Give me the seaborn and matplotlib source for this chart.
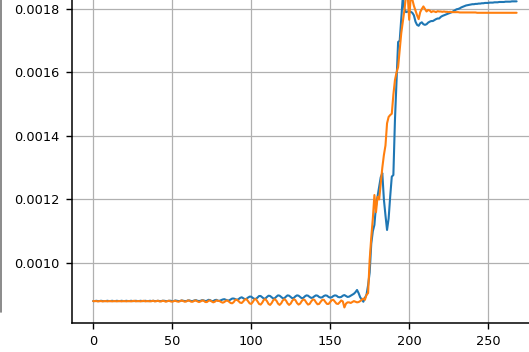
import numpy as np
import pandas as pd
import matplotlib
matplotlib.use("Agg")
import matplotlib.pyplot as plt
from matplotlib.lines import Line2D
from matplotlib.ticker import FormatStrFormatter
import seaborn as sns

# values, in units of 1e-6
blue_vals = [
    880, 880, 881, 880, 880, 881, 880, 880, 880, 881,
    880, 880, 881, 880, 880, 881, 880, 880, 881, 880,
    880, 881, 880, 880, 881, 880, 880, 881, 880, 880,
    881, 880, 880, 881, 880, 880, 881, 880, 881, 880,
    880, 881, 880, 880, 881, 881, 880, 880, 881, 881,
    880, 880, 882, 881, 880, 880, 882, 881, 880, 880,
    882, 882, 880, 880, 882, 883, 881, 880, 881, 883,
    882, 880, 881, 884, 883, 880, 880, 883, 884, 881,
    881, 883, 885, 886, 884, 882, 882, 885, 888, 888,
    886, 884, 886, 890, 892, 889, 886, 887, 891, 894,
    894, 890, 887, 887, 891, 896, 896, 892, 888, 888,
    893, 897, 896, 892, 888, 889, 894, 898, 897, 893,
    889, 889, 894, 898, 897, 893, 889, 890, 895, 898,
    897, 893, 889, 890, 895, 898, 897, 893, 890, 891,
    895, 898, 897, 893, 891, 892, 896, 898, 897, 893,
    891, 892, 896, 898, 897, 893, 892, 893, 897, 899,
    896, 893, 894, 897, 900, 903, 908, 915, 905, 892,
    885, 878, 890, 900, 930, 970, 1060, 1100, 1120, 1180,
    1210, 1240, 1270, 1283, 1200, 1150, 1104, 1140, 1210, 1272,
    1277, 1450, 1570, 1696, 1700, 1770, 1840, 1800, 1790, 1792,
    1790, 1791, 1788, 1780, 1760, 1750, 1747, 1755, 1758, 1752,
    1750, 1752, 1757, 1760, 1762, 1762, 1765, 1768, 1770, 1770,
    1775, 1778, 1780, 1782, 1784, 1786, 1788, 1790, 1793, 1796,
    1799, 1800, 1802, 1805, 1807, 1809, 1811, 1812, 1813, 1814,
    1815, 1815, 1816, 1816, 1817, 1817, 1818, 1818, 1819, 1819,
    1819, 1820, 1820, 1820, 1821, 1821, 1821, 1822, 1822, 1822,
    1822, 1823, 1823, 1823, 1823, 1824, 1824, 1824, 1824,
]

orange_vals = [
    880, 880, 880, 879, 880, 880, 879, 880, 880, 879,
    880, 880, 879, 880, 880, 879, 880, 880, 879, 880,
    880, 879, 880, 880, 879, 880, 881, 879, 880, 880,
    879, 880, 881, 879, 880, 880, 879, 880, 881, 879,
    880, 881, 879, 879, 881, 880, 878, 880, 881, 879,
    878, 880, 881, 879, 878, 880, 882, 880, 878, 879,
    882, 881, 878, 878, 881, 882, 879, 877, 879, 882,
    881, 877, 877, 881, 882, 879, 876, 878, 882, 881,
    880, 877, 875, 877, 881, 882, 878, 874, 873, 877,
    884, 884, 880, 875, 874, 879, 885, 886, 880, 873,
    871, 877, 885, 886, 879, 871, 869, 875, 884, 886,
    880, 871, 868, 874, 883, 886, 881, 872, 868, 873,
    882, 886, 882, 873, 868, 872, 881, 886, 883, 874,
    869, 872, 880, 885, 883, 875, 869, 871, 879, 885,
    884, 876, 870, 871, 878, 884, 884, 877, 871, 871,
    877, 883, 884, 878, 872, 871, 876, 882, 879, 860,
    872, 876, 876, 874, 877, 880, 878, 876, 877, 880,
    884, 888, 884, 900, 905, 1010, 1080, 1140, 1214, 1160,
    1208, 1200, 1250, 1300, 1340, 1370, 1440, 1460, 1466, 1470,
    1530, 1576, 1600, 1617, 1670, 1724, 1760, 1797, 1840, 1850,
    1766, 1840, 1830, 1810, 1795, 1780, 1768, 1790, 1800, 1808,
    1800, 1792, 1797, 1795, 1790, 1793, 1792, 1790, 1793, 1792,
    1792, 1791, 1792, 1791, 1791, 1790, 1791, 1790, 1790, 1790,
    1790, 1790, 1789, 1789, 1789, 1789, 1789, 1789, 1789, 1789,
    1789, 1789, 1789, 1788, 1788, 1788, 1788, 1788, 1788, 1788,
    1788, 1788, 1788, 1788, 1788, 1788, 1788, 1788, 1788, 1788,
    1788, 1788, 1788, 1788, 1788, 1788, 1788, 1788, 1788,
]

y_ticks = [0.0010, 0.0012, 0.0014, 0.0016, 0.0018]
x_ticks = [0, 50, 100, 150, 200, 250]

# long-form frame for seaborn
n = len(blue_vals)
df = pd.DataFrame({
    "step": list(range(n)) + list(range(len(orange_vals))),
    "value": np.array(blue_vals + orange_vals) * 1e-6,
    "series": ["blue"] * n + ["orange"] * len(orange_vals),
})

sns.set_style("white")
plt.rcParams["font.family"] = ["DejaVu Sans"]

fig = plt.figure(figsize=(5.29, 3.52), dpi=100)
# axes run past the top and right edge (the reference is a cropped figure)
ax = fig.add_axes([0.1361, 0.0824, 0.8805, 1.0184])

sns.lineplot(data=df, x="step", y="value", hue="series",
             palette=["#1f77b4", "#ff7f0e"], linewidth=1.5,
             legend=False, ax=ax)

ax.set_xlim(-13.4, 281.4)
ax.set_ylim(0.000811, 0.00194)
ax.set_xticks(x_ticks)
ax.set_yticks(y_ticks)
ax.yaxis.set_major_formatter(FormatStrFormatter("%.4f"))
ax.set_xlabel("")
ax.set_ylabel("")
ax.grid(True, color="#b0b0b0", linewidth=0.9)
ax.tick_params(labelsize=9.3, labelcolor="black", length=4, width=1,
               color="black", left=True, bottom=True, pad=5)
for side in ["left", "bottom"]:
    ax.spines[side].set_color("black")
    ax.spines[side].set_linewidth(1.1)

# thin frame edge on the far left of the crop
fig.add_artist(Line2D([0.002, 0.002], [0.1136, 1.0], transform=fig.transFigure,
                      color="#777777", linewidth=1.2))

fig.savefig("out.png", dpi=100)
